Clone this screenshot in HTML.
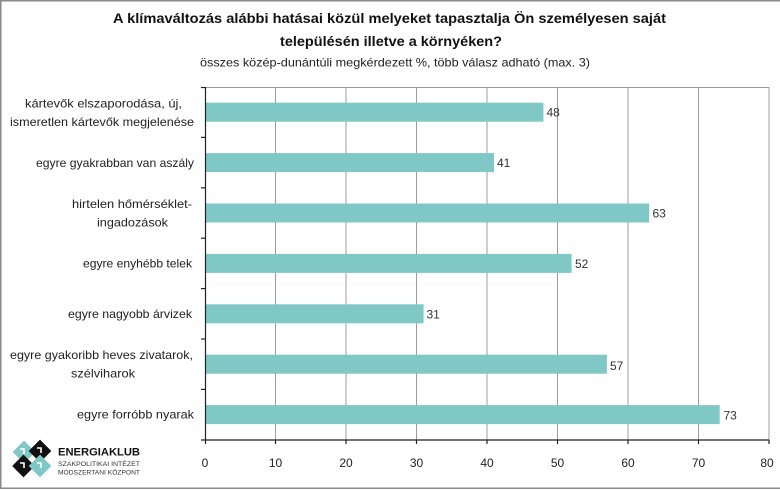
<!DOCTYPE html>
<html><head><meta charset="utf-8"><style>
html,body{margin:0;padding:0;background:#fff;}
svg{display:block;}
text{font-family:"Liberation Sans",sans-serif;}
</style></head><body>
<svg width="780" height="490" viewBox="0 0 780 490" xmlns="http://www.w3.org/2000/svg">
<rect x="0" y="0" width="780" height="490" fill="#fff"/>
<!-- frame -->
<line x1="0.75" y1="0" x2="0.75" y2="489" stroke="#8a8a8a" stroke-width="1.5"/>
<line x1="0" y1="0.75" x2="780" y2="0.75" stroke="#8a8a8a" stroke-width="1.5"/>
<line x1="0" y1="488.25" x2="780" y2="488.25" stroke="#8a8a8a" stroke-width="1.5"/>

<!-- titles -->
<text x="113" y="23" font-size="14" font-weight="bold" fill="#111" textLength="553" lengthAdjust="spacingAndGlyphs">A klímaváltozás alábbi hatásai közül melyeket tapasztalja Ön személyesen saját</text>
<text x="280" y="46" font-size="14" font-weight="bold" fill="#111" textLength="222" lengthAdjust="spacingAndGlyphs">településén illetve a környéken?</text>
<text x="200" y="66.5" font-size="12" fill="#222" textLength="390" lengthAdjust="spacingAndGlyphs">összes közép-dunántúli megkérdezett %, több válasz adható (max. 3)</text>

<!-- plot frame / grid -->
<g stroke="#9c9c9c" stroke-width="1">
<line x1="205" y1="87.5" x2="769" y2="87.5"/>
<line x1="275.5" y1="87" x2="275.5" y2="440"/>
<line x1="346" y1="87" x2="346" y2="440"/>
<line x1="416.5" y1="87" x2="416.5" y2="440"/>
<line x1="487" y1="87" x2="487" y2="440"/>
<line x1="557.5" y1="87" x2="557.5" y2="440"/>
<line x1="628" y1="87" x2="628" y2="440"/>
<line x1="698.5" y1="87" x2="698.5" y2="440"/>
<line x1="769" y1="87" x2="769" y2="440"/>
</g>

<!-- bars -->
<g fill="#7fc8c5">
<rect x="206" y="102.7" width="337.4" height="19"/>
<rect x="206" y="153.1" width="288" height="19"/>
<rect x="206" y="203.5" width="443.2" height="19"/>
<rect x="206" y="253.9" width="365.6" height="19"/>
<rect x="206" y="304.3" width="217.6" height="19"/>
<rect x="206" y="354.7" width="400.9" height="19"/>
<rect x="206" y="405.1" width="513.7" height="19"/>
</g>

<!-- axes -->
<g stroke="#222" stroke-width="1.2">
<line x1="205.5" y1="87" x2="205.5" y2="444"/>
<line x1="201" y1="440" x2="769" y2="440"/>
<line x1="201" y1="87.5" x2="205" y2="87.5"/>
<line x1="201" y1="137.4" x2="205" y2="137.4"/>
<line x1="201" y1="187.8" x2="205" y2="187.8"/>
<line x1="201" y1="238.2" x2="205" y2="238.2"/>
<line x1="201" y1="288.6" x2="205" y2="288.6"/>
<line x1="201" y1="339" x2="205" y2="339"/>
<line x1="201" y1="389.4" x2="205" y2="389.4"/>
<line x1="275.5" y1="440" x2="275.5" y2="444"/>
<line x1="346" y1="440" x2="346" y2="444"/>
<line x1="416.5" y1="440" x2="416.5" y2="444"/>
<line x1="487" y1="440" x2="487" y2="444"/>
<line x1="557.5" y1="440" x2="557.5" y2="444"/>
<line x1="628" y1="440" x2="628" y2="444"/>
<line x1="698.5" y1="440" x2="698.5" y2="444"/>
<line x1="769" y1="440" x2="769" y2="444"/>
</g>

<!-- category labels -->
<g font-size="12" fill="#222">
<text x="25" y="107.5" textLength="157" lengthAdjust="spacingAndGlyphs">kártevők elszaporodása, új,</text>
<text x="10" y="126" textLength="184" lengthAdjust="spacingAndGlyphs">ismeretlen kártevők megjelenése</text>
<text x="36" y="167" textLength="158" lengthAdjust="spacingAndGlyphs">egyre gyakrabban van aszály</text>
<text x="72" y="208" textLength="120" lengthAdjust="spacingAndGlyphs">hirtelen hőmérséklet-</text>
<text x="97" y="226.5" textLength="71" lengthAdjust="spacingAndGlyphs">ingadozások</text>
<text x="83" y="267.5" textLength="109" lengthAdjust="spacingAndGlyphs">egyre enyhébb telek</text>
<text x="68" y="318" textLength="124" lengthAdjust="spacingAndGlyphs">egyre nagyobb árvizek</text>
<text x="10" y="359" textLength="183" lengthAdjust="spacingAndGlyphs">egyre gyakoribb heves zivatarok,</text>
<text x="71" y="377.5" textLength="64" lengthAdjust="spacingAndGlyphs">szélviharok</text>
<text x="77" y="418.5" textLength="117" lengthAdjust="spacingAndGlyphs">egyre forróbb nyarak</text>
</g>

<!-- value labels -->
<g font-size="12" fill="#333">
<text x="546.5" y="116.5">48</text>
<text x="497" y="167">41</text>
<text x="652.5" y="217.5">63</text>
<text x="575" y="268">52</text>
<text x="426.5" y="318.5">31</text>
<text x="610" y="370">57</text>
<text x="723.5" y="419.5">73</text>
</g>

<!-- x tick labels -->
<g font-size="12" fill="#222" text-anchor="middle">
<text x="205" y="467">0</text>
<text x="275.5" y="467">10</text>
<text x="346" y="467">20</text>
<text x="416.5" y="467">30</text>
<text x="487" y="467">40</text>
<text x="557.5" y="467">50</text>
<text x="628" y="467">60</text>
<text x="698.5" y="467">70</text>
<text x="767" y="467">80</text>
</g>

<!-- logo -->
<g>
<rect x="-8" y="-8" width="16" height="16" fill="#7fc8c5" transform="translate(24,452) rotate(45)"/>
<rect x="-8" y="-8" width="16" height="16" fill="#111" transform="translate(40,451) rotate(45)"/>
<rect x="-8" y="-8" width="16" height="16" fill="#111" transform="translate(23.5,466) rotate(45)"/>
<rect x="-8" y="-8" width="16" height="16" fill="#7fc8c5" transform="translate(40,466) rotate(45)"/>
<g stroke="#fff" stroke-width="1.6" fill="none">
<path d="M20 449 l4 0 l0 5"/>
<path d="M37 448 l4 0 l0 5"/>
<path d="M20 463 l4 0 l0 5"/>
<path d="M37 463 l4 0 l0 5"/>
</g>
<text x="58" y="455.5" font-size="11" font-weight="bold" fill="#111" textLength="82" lengthAdjust="spacingAndGlyphs">ENERGIAKLUB</text>
<text x="58" y="466" font-size="6.5" fill="#333" textLength="82" lengthAdjust="spacingAndGlyphs">SZAKPOLITIKAI INTÉZET</text>
<text x="58" y="474.5" font-size="6.5" fill="#333" textLength="82" lengthAdjust="spacingAndGlyphs">MÓDSZERTANI KÖZPONT</text>
</g>
</svg>
</body></html>
